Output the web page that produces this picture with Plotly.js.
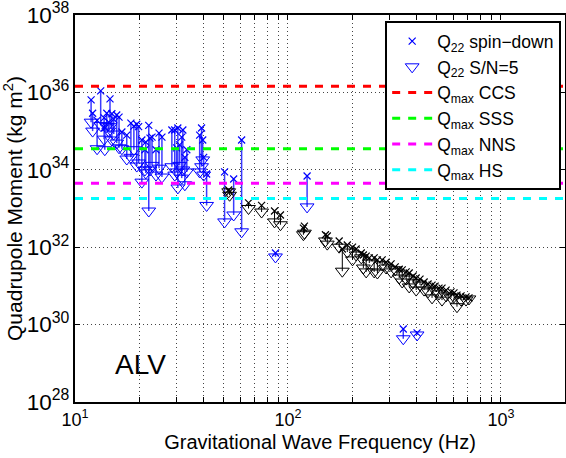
<!DOCTYPE html>
<html><head><meta charset="utf-8">
<script src="https://cdn.plot.ly/plotly-3.0.1.min.js"></script>
<style>html,body{margin:0;padding:0;background:#fff}#chart{width:566px;height:458px}</style>
</head><body><div id="chart"></div>
<script>
// Pulsars whose spin-down limit is above the S/N=5 sensitivity (blue)
const blueFreq = [11.9,12.1,12.7,13.2,13.7,13.8,14.1,14.4,14.6,14.9,15.2,15.7,16.1,16.6,
  17.5,18.3,18.9,19.5,19.9,20.6,21.3,21.5,22.2,22.5,23.0,24.0,24.8,25.6,
  28.5,29.4,30.0,30.4,31.0,31.7,32.1,32.8,33.5,
  38.5,39.3,39.8,40.2,41.5,
  50.4,55.6,60.6,87.4,123,348,404];
const blueSpinDown = [6.4e35,2.9e35,1.9e35,1.1e36,2.2e35,1.2e35,2.9e35,1.7e35,6.8e35,2.8e35,2.0e35,2.6e35,2.3e35,9.5e34,
  7.9e34,1.6e35,1.35e35,1.5e35,1.3e35,5.9e34,3.3e34,5.2e34,1.4e35,6.6e34,7.0e34,3.3e34,8.9e34,7.0e34,
  1.07e35,1.07e35,3.7e34,1.2e35,4.4e34,7.0e34,1.07e35,2.1e34,3.3e34,
  7.9e34,1.2e35,5.9e34,2.1e34,7.8e33,
  8.8e33,5.8e33,5.9e34,7.1e31,6.9e33,7.7e29,6.1e29];
const blueSN5 = [1.7e35,1.0e35,3.5e34,1.4e35,6.2e34,3.3e34,1.3e35,1.0e35,1.3e35,5.9e34,8.4e34,4.9e34,3.7e34,3.5e34,
  1.9e34,2.1e34,3.3e34,1.25e34,1.5e34,4.8e33,9.9e33,8.3e33,8.6e32,9.9e33,1.3e34,7.3e33,1.1e34,6.5e33,
  1.2e34,7.3e33,8.8e33,3.4e33,1.3e34,6.1e33,9.9e33,4.1e33,8.8e33,
  8.8e33,1.2e34,1.8e34,7.3e33,1.2e33,
  4.5e32,6.8e32,2.5e32,5.6e31,1.1e33,4.3e29,5.4e29];

// Pulsars whose spin-down limit is below the S/N=5 sensitivity (black)
const blackFreq = [52.7,53.2,65.3,75.2,86.5,92.2,119.5,118.2,150,153,174,180,190,201,209,221,226,233,241,254,263,277,289,305,319,333,344,359,371,387,400,417,436,455,475,491,512,529,553,583,602,622,650,686,708];
const blackSpinDown = [3.0e33,2.7e33,1.4e33,1.2e33,8.6e32,6.8e32,3.5e32,3.1e32,2.1e32,1.95e32,1.45e32,9.0e31,1.14e32,1.0e32,9.0e31,7.1e31,6.3e31,5.9e31,5.3e31,5.3e31,4.7e31,4.7e31,4.1e31,3.7e31,3.1e31,2.7e31,2.6e31,2.3e31,2.15e31,1.8e31,1.6e31,1.5e31,1.26e31,1.12e31,1.05e31,9.9e30,8.8e30,8.8e30,7.8e30,7.0e30,6.6e30,5.8e30,5.5e30,5.2e30,4.9e30];
const blackSN5 = [2.7e33,2.2e33,1.0e33,8.1e32,4.5e32,3.8e32,2.3e32,2.1e32,1.45e32,1.2e32,1.0e32,2.4e31,7.5e31,4.7e31,6.3e31,5.3e31,2.9e31,2.3e31,3.9e31,2.3e31,2.15e31,3.5e31,2.9e31,2.3e31,2.6e31,1.6e31,1.26e31,1.5e31,9.4e30,1.2e31,7.8e30,1.05e31,7.8e30,7.0e30,4.9e30,7.4e30,6.2e30,4.3e30,5.5e30,4.9e30,5.2e30,2.9e30,4.3e30,4.3e30,4.6e30];

// Maximum quadrupole moments for star models
const qmaxNames = ['CCS','SSS','NNS','HS'];
const qmaxValues = [1.45e36, 3.5e34, 4.5e33, 1.8e33];

const freqRange = [10, 2000];
const xTickVals = [10,20,30,40,50,60,70,80,90,100,200,300,400,500,600,700,800,900,1000,2000];
const xTickText = ['10<sup>1</sup>','','','','','','','','','10<sup>2</sup>','','','','','','','','','10<sup>3</sup>',''];
const panelLabel = 'ALV';

function connectors(f, a, b){
  const xs=[], ys=[];
  for(let i=0;i<f.length;i++){ xs.push(f[i],f[i],null); ys.push(a[i],b[i],null); }
  return {xs, ys};
}
const cb = connectors(blueFreq, blueSpinDown, blueSN5);
const ck = connectors(blackFreq, blackSpinDown, blackSN5);
const lineColors = ['#ff0000','#00ff00','#ff00ff','#00ffff'];

const traces = [
  {x: cb.xs, y: cb.ys, mode:'lines', line:{color:'#3b3bff', width:1.5}, showlegend:false, hoverinfo:'skip'},
  {x: ck.xs, y: ck.ys, mode:'lines', line:{color:'#000', width:1}, showlegend:false, hoverinfo:'skip'},
  {x: blackFreq, y: blackSN5, mode:'markers', marker:{symbol:'triangle-down-open', size:12, color:'#000', line:{width:1}}, showlegend:false},
  {x: blackFreq, y: blackSpinDown, mode:'markers', marker:{symbol:'x-thin-open', size:7, color:'#000', line:{width:1.2}}, showlegend:false},
  {x: blueFreq, y: blueSpinDown, name:'Q<sub>22</sub> spin\u2212down', mode:'markers', marker:{symbol:'x-thin-open', size:7, color:'#0000ff', line:{width:1.2, color:'#0000ff'}}},
  {x: blueFreq, y: blueSN5, name:'Q<sub>22</sub> S/N=5', mode:'markers', marker:{symbol:'triangle-down-open', size:12, color:'#0000ff', line:{width:1}}}
];
qmaxNames.forEach((n,i)=>{
  traces.push({x: freqRange, y:[qmaxValues[i], qmaxValues[i]], mode:'lines', name:'Q<sub>max</sub> '+n,
    line:{color:lineColors[i], width:3, dash:'8px,8px'}});
});

const font = {family:'Liberation Sans, Arial, sans-serif', color:'#000'};
const layout = {
  width:566, height:458,
  margin:{l:75, r:1, t:15, b:56},
  paper_bgcolor:'#fff', plot_bgcolor:'#fff',
  font: Object.assign({size:17}, font),
  showlegend:true,
  xaxis:{type:'log', range:[Math.log10(freqRange[0]), Math.log10(freqRange[1])],
    tickvals:xTickVals, ticktext:xTickText, ticks:'inside', ticklen:5, tickcolor:'#000',
    showgrid:true, gridcolor:'#444', griddash:'1px,3px', gridwidth:1,
    showline:true, linecolor:'#000', linewidth:2, mirror:'ticks', zeroline:false,
    tickfont:Object.assign({size:18}, font), ticklabeloverflow:'allow',
    title:{text:'Gravitational Wave Frequency (Hz)', font:Object.assign({size:20}, font), standoff:6}},
  yaxis:{type:'log', range:[28, 38], dtick:2, exponentformat:'power', ticks:'inside', ticklen:5, tickcolor:'#000',
    showgrid:true, gridcolor:'#444', griddash:'1px,3px', gridwidth:1,
    showline:true, linecolor:'#000', linewidth:2, mirror:'ticks', zeroline:false,
    tickfont:Object.assign({size:18}, font), ticklabeloverflow:'allow',
    title:{text:'Quadrupole Moment (kg m<sup>2</sup>)', font:Object.assign({size:21}, font), standoff:3}},
  legend:{x:0.633, y:0.984, xanchor:'left', yanchor:'top', bgcolor:'#fff', bordercolor:'#000', borderwidth:2,
    font:Object.assign({size:17.5}, font), tracegroupgap:0, itemwidth:40},
  annotations:[{text:panelLabel, xref:'paper', yref:'paper', x:0.077, y:0.098, xanchor:'left', yanchor:'middle',
    showarrow:false, font:Object.assign({size:28}, font)}]
};
Plotly.newPlot('chart', traces, layout, {displayModeBar:false, staticPlot:true});
</script></body></html>
